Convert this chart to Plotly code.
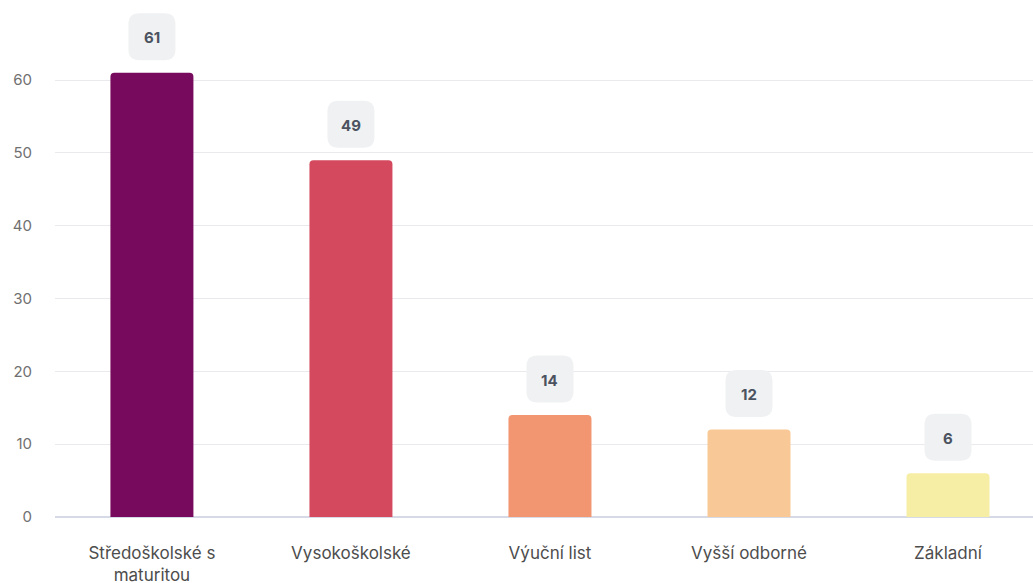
import plotly.graph_objects as go

categories = ["Středoškolské s<br>maturitou", "Vysokoškolské", "Výuční list", "Vyšší odborné", "Základní"]
values = [61, 49, 14, 12, 6]
colors = ["#770a5c", "#d4495d", "#f29571", "#f8c996", "#f7eea6"]
y_ticks = [0, 10, 20, 30, 40, 50, 60]

x_idx = list(range(len(categories)))

fig = go.Figure()
fig.add_trace(go.Bar(
    x=x_idx, y=values,
    marker=dict(color=colors, cornerradius=4, line=dict(width=0)),
    width=0.417,
    hoverinfo="skip",
))

def rounded_rect(w, h, r, cy):
    x0, x1 = -w / 2, w / 2
    y0, y1 = cy - h / 2, cy + h / 2
    return (f"M {x0+r},{y0} L {x1-r},{y0} Q {x1},{y0} {x1},{y0+r} "
            f"L {x1},{y1-r} Q {x1},{y1} {x1-r},{y1} L {x0+r},{y1} "
            f"Q {x0},{y1} {x0},{y1-r} L {x0},{y0+r} Q {x0},{y0} {x0+r},{y0} Z")

for i, v in zip(x_idx, values):
    fig.add_shape(
        type="path", xref="x", yref="y",
        xsizemode="pixel", ysizemode="pixel",
        xanchor=i, yanchor=v,
        path=rounded_rect(47, 47, 11, 36),
        fillcolor="#f0f1f2", line=dict(width=0), layer="above",
    )
    fig.add_annotation(
        x=i, y=v, xref="x", yref="y", text=f"<b>{v}</b>",
        showarrow=False, yshift=35, yanchor="middle",
        font=dict(size=15, color="#4b5260", family="Inter"),
    )

fig.update_layout(
    width=1033, height=583,
    margin=dict(l=55, r=0, t=5, b=66, autoexpand=False),
    paper_bgcolor="white", plot_bgcolor="white",
    showlegend=False,
    font=dict(family="Inter", color="#555"),
    xaxis=dict(
        range=[-0.487, 4.427],
        tickmode="array", tickvals=x_idx, ticktext=categories,
        showgrid=False, zeroline=False, showline=False,
        tickfont=dict(size=17, color="#4d4d4d"),
        ticklabelstandoff=24,
        automargin=False,
    ),
    yaxis=dict(
        range=[0, 70.3],
        tickmode="array", tickvals=y_ticks,
        showgrid=True, gridcolor="#e9e9ee", gridwidth=1,
        zeroline=True, zerolinecolor="#d6dae6", zerolinewidth=2,
        showline=False,
        tickfont=dict(size=15, color="#707070"),
        ticklabelstandoff=22,
        automargin=False,
    ),
)

fig.write_html(
    "out.html",
    config={"displayModeBar": False},
    post_script="document.body.style.margin='0';document.body.style.overflow='hidden';",
)
